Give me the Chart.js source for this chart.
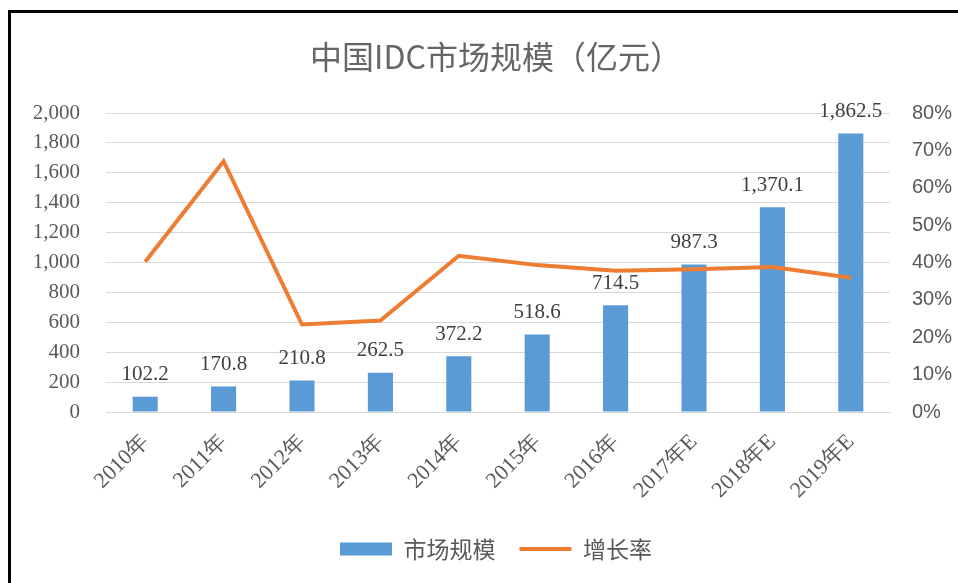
<!DOCTYPE html>
<html>
<head>
<meta charset="utf-8">
<title>中国IDC市场规模</title>
<script src="https://cdn.jsdelivr.net/npm/chart.js@4/dist/chart.umd.min.js"></script>
<style>
  html, body { margin: 0; padding: 0; background: #fff; overflow: hidden; }
  #frame { position: absolute; left: 8px; top: 10px; width: 1200px; height: 800px; border: 3px solid #000; }
  #wrap { position: absolute; left: 0; top: 0; width: 958px; height: 583px; }
</style>
</head>
<body>
<div id="frame"></div>
<div id="wrap"><canvas id="chart" width="958" height="583"></canvas></div>
<script>
// 数据
const years = ['2010年', '2011年', '2012年', '2013年', '2014年', '2015年', '2016年', '2017年E', '2018年E', '2019年E'];
const marketSize = [102.2, 170.8, 210.8, 262.5, 372.2, 518.6, 714.5, 987.3, 1370.1, 1862.5];
const growthRate = [40.2, 67.1, 23.4, 24.5, 41.8, 39.3, 37.8, 38.2, 38.8, 35.9];

const gray = '#595959';

function fmt1(v) {
    return v.toLocaleString('en-US', { minimumFractionDigits: 1, maximumFractionDigits: 1 });
}

// 柱子上方的数值标签
const barLabels = {
    id: 'barLabels',
    afterDatasetsDraw(chart) {
        const ctx = chart.ctx;
        const meta = chart.getDatasetMeta(0);
        ctx.save();
        ctx.font = '21px "Liberation Serif", serif';
        ctx.fillStyle = '#404040';
        ctx.textAlign = 'center';
        ctx.textBaseline = 'middle';
        meta.data.forEach((bar, i) => {
            ctx.fillText(fmt1(marketSize[i]), bar.x, bar.y - 22);
        });
        ctx.restore();
    }
};

new Chart(document.getElementById('chart'), {
    data: {
        labels: years,
        datasets: [
            {
                type: 'bar',
                label: '市场规模',
                data: marketSize,
                backgroundColor: '#5B9BD5',
                yAxisID: 'y',
                order: 1,
                barPercentage: 0.32,
                categoryPercentage: 1,
                pointStyle: 'rect'
            },
            {
                type: 'line',
                label: '增长率',
                data: growthRate,
                borderColor: '#ED7D31',
                backgroundColor: '#ED7D31',
                borderWidth: 4,
                borderJoinStyle: 'miter',
                pointRadius: 0,
                tension: 0,
                yAxisID: 'y1',
                order: 0,
                pointStyle: 'line'
            }
        ]
    },
    options: {
        responsive: false,
        devicePixelRatio: 1,
        animation: false,
        layout: { padding: { left: 34, right: 0, top: 0, bottom: 12.5 } },
        plugins: {
            title: {
                display: true,
                text: '中国IDC市场规模（亿元）',
                color: '#666666',
                font: { family: '"Noto Sans CJK SC", sans-serif', size: 32, weight: 'normal' },
                padding: { top: 38, bottom: 36.6 }
            },
            legend: {
                position: 'bottom',
                labels: {
                    usePointStyle: true,
                    pointStyleWidth: 52,
                    boxHeight: 13,
                    padding: 24,
                    color: gray,
                    font: { family: '"Noto Sans CJK SC", sans-serif', size: 23 },
                    sort: (a, b) => a.datasetIndex - b.datasetIndex
                }
            },
            tooltip: { enabled: false }
        },
        scales: {
            x: {
                offset: true,
                grid: { display: false, drawTicks: false },
                border: { display: true, color: '#d9d9d9' },
                ticks: {
                    minRotation: 45,
                    maxRotation: 45,
                    autoSkip: false,
                    color: gray,
                    padding: 17,
                    font: { family: '"Liberation Serif", serif', size: 22 }
                },
                afterFit(s) { s.height = 101.5; }
            },
            y: {
                position: 'left',
                min: 0,
                max: 2000,
                ticks: {
                    stepSize: 200,
                    color: gray,
                    padding: 26,
                    font: { family: '"Liberation Serif", serif', size: 21 },
                    callback: v => v.toLocaleString('en-US')
                },
                grid: { color: '#d9d9d9', drawTicks: false },
                border: { display: false },
                afterFit(s) { s.width = 72; }
            },
            y1: {
                position: 'right',
                min: 0,
                max: 80,
                ticks: {
                    stepSize: 10,
                    color: gray,
                    padding: 22,
                    font: { family: '"Liberation Sans", sans-serif', size: 20 },
                    callback: v => v + '%'
                },
                grid: { display: false, drawTicks: false },
                border: { display: false },
                afterFit(s) { s.width = 68; }
            }
        }
    },
    plugins: [barLabels]
});
</script>
</body>
</html>
